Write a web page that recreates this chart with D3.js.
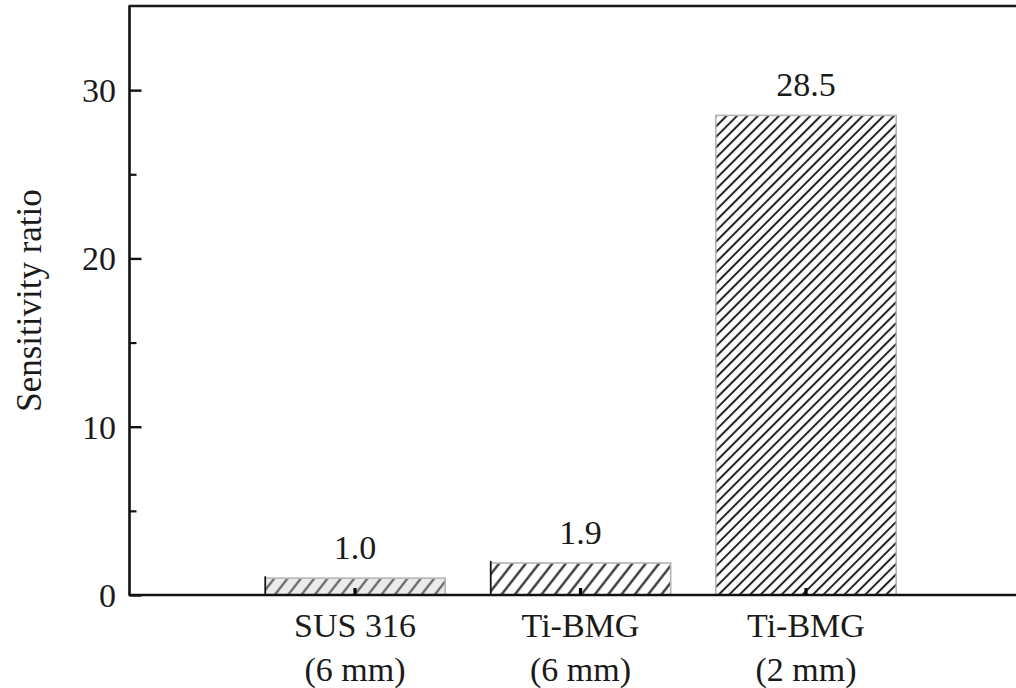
<!DOCTYPE html>
<html>
<head>
<meta charset="utf-8">
<script src="https://cdn.jsdelivr.net/npm/d3@7"></script>
<style>
  html, body { margin: 0; padding: 0; background: #fff; overflow: hidden; }
  svg { display: block; overflow: hidden; }
  text { font-family: "Liberation Serif", "Times New Roman", serif; fill: #1a1a1a; }
</style>
</head>
<body>
<svg id="chart" width="1016" height="688"></svg>
<script>
// Sensitivity ratio of the three sensor materials
const categories = ["SUS 316", "Ti-BMG", "Ti-BMG"];
const sizes = ["(6 mm)", "(6 mm)", "(2 mm)"];
const ratios = [1.0, 1.9, 28.5];
const ratioLabels = ["1.0", "1.9", "28.5"];
const yTicks = [0, 10, 20, 30];
const yMinorTicks = [5, 15, 25];

const svg = d3.select("#chart");
const W = 1016, H = 688;

// plot frame: x runs 0..4 (bars sit at 1, 2, 3); the frame is cut at the page edge
const x = d3.scaleLinear().domain([0, 4]).range([129.5, 1031.5]);
const y = d3.scaleLinear().domain([0, 35]).range([595, 6]);

const keys = categories.map((c, i) => c + " " + sizes[i]);
const band = d3.scaleBand()
  .domain(keys)
  .range([x(0.5), x(3.5)])
  .paddingInner(0.2)
  .paddingOuter(0.1);

// hatch patterns
const defs = svg.append("defs");
function hatch(id, gap, angle, stroke, width, bg) {
  const p = defs.append("pattern")
    .attr("id", id)
    .attr("patternUnits", "userSpaceOnUse")
    .attr("width", gap).attr("height", gap)
    .attr("patternTransform", `rotate(${angle})`);
  p.append("rect").attr("width", gap).attr("height", gap).attr("fill", bg);
  p.append("line")
    .attr("x1", gap / 2).attr("y1", 0)
    .attr("x2", gap / 2).attr("y2", gap)
    .attr("stroke", stroke).attr("stroke-width", width);
}
hatch("h0", 10.5, 38, "#555", 2.0, "#ebebeb");
hatch("h1", 10.5, 38, "#2a2a2a", 2.2, "#ffffff");
hatch("h2", 7.4, 45, "#222", 2.0, "#ffffff");

const g = svg.append("g");

// bars
g.selectAll("rect.bar")
  .data(ratios)
  .join("rect")
  .attr("class", "bar")
  .attr("x", (d, i) => band(keys[i]))
  .attr("y", d => y(d))
  .attr("width", band.bandwidth())
  .attr("height", d => y(0) - y(d))
  .attr("fill", (d, i) => `url(#h${i})`)
  .attr("stroke", "#b5b5b5")
  .attr("stroke-width", 1.6);

// darker left edge on the two short bars
g.selectAll("line.edge")
  .data(ratios.slice(0, 2))
  .join("line")
  .attr("class", "edge")
  .attr("x1", (d, i) => band(keys[i]) + 0.5)
  .attr("x2", (d, i) => band(keys[i]) + 0.5)
  .attr("y1", d => y(d) - 2)
  .attr("y2", y(0))
  .attr("stroke", "#111")
  .attr("stroke-width", 1.6);

// value labels
g.selectAll("text.val")
  .data(ratios)
  .join("text")
  .attr("class", "val")
  .attr("x", (d, i) => band(keys[i]) + band.bandwidth() / 2)
  .attr("y", d => y(d) - 19)
  .attr("text-anchor", "middle")
  .attr("font-size", 34)
  .text((d, i) => ratioLabels[i]);

// frame: left axis, top border, bottom axis
g.append("line").attr("x1", x(0)).attr("x2", x(0)).attr("y1", y(35)).attr("y2", y(0))
  .attr("stroke", "#111").attr("stroke-width", 2.6);
g.append("line").attr("x1", x(0) - 1).attr("x2", W).attr("y1", y(35)).attr("y2", y(35))
  .attr("stroke", "#1a1a1a").attr("stroke-width", 2.6);
g.append("line").attr("x1", x(0) - 1).attr("x2", W).attr("y1", y(0)).attr("y2", y(0))
  .attr("stroke", "#111").attr("stroke-width", 2.6);

// y axis ticks (inward) and labels
const yAxis = d3.axisRight(y).tickValues(yTicks).tickSize(12).tickFormat("");
const ya = g.append("g").attr("transform", `translate(${x(0)},0)`).call(yAxis);
ya.select(".domain").remove();
ya.selectAll(".tick line").attr("stroke", "#111").attr("stroke-width", 2.4);

const yMinor = d3.axisRight(y).tickValues(yMinorTicks).tickSize(7).tickFormat("");
const ym = g.append("g").attr("transform", `translate(${x(0)},0)`).call(yMinor);
ym.select(".domain").remove();
ym.selectAll(".tick line").attr("stroke", "#111").attr("stroke-width", 2.2);

g.selectAll("text.ytl")
  .data(yTicks)
  .join("text")
  .attr("class", "ytl")
  .attr("x", 116)
  .attr("y", d => y(d))
  .attr("dy", "0.35em")
  .attr("text-anchor", "end")
  .attr("font-size", 34)
  .text(d => d);

// x axis ticks at bar centres (inward)
const xAxis = d3.axisTop(band).tickSize(7).tickFormat("");
const xa = g.append("g").attr("transform", `translate(0,${y(0)})`).call(xAxis);
xa.select(".domain").remove();
xa.selectAll(".tick line").attr("stroke", "#000").attr("stroke-width", 3.2);

// category labels
const cl = g.selectAll("text.cat")
  .data(keys)
  .join("text")
  .attr("class", "cat")
  .attr("text-anchor", "middle")
  .attr("font-size", 34);
cl.append("tspan")
  .attr("x", d => band(d) + band.bandwidth() / 2)
  .attr("y", 637)
  .text((d, i) => categories[i]);
cl.append("tspan")
  .attr("x", d => band(d) + band.bandwidth() / 2)
  .attr("y", 681)
  .text((d, i) => sizes[i]);

// y axis title
g.append("text")
  .attr("transform", `translate(41,${(y(0) + y(35)) / 2}) rotate(-90)`)
  .attr("text-anchor", "middle")
  .attr("font-size", 35)
  .text("Sensitivity ratio");
</script>
</body>
</html>
